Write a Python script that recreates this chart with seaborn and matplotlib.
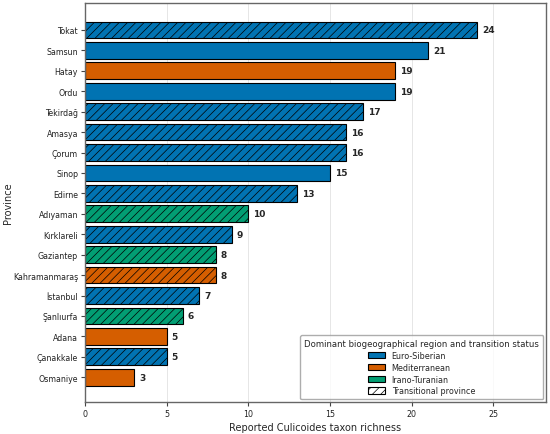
import matplotlib
matplotlib.use("Agg")
import matplotlib.pyplot as plt
import seaborn as sns
import pandas as pd
from matplotlib.patches import Patch

provinces = ["Tokat", "Samsun", "Hatay", "Ordu", "Tekirdağ", "Amasya", "Çorum", "Sinop",
             "Edirne", "Adıyaman", "Kırklareli", "Gaziantep", "Kahramanmaraş", "İstanbul",
             "Şanlıurfa", "Adana", "Çanakkale", "Osmaniye"]
richness = [24, 21, 19, 19, 17, 16, 16, 15, 13, 10, 9, 8, 8, 7, 6, 5, 5, 3]
regions = ["Euro-Siberian", "Euro-Siberian", "Mediterranean", "Euro-Siberian", "Euro-Siberian",
           "Euro-Siberian", "Euro-Siberian", "Euro-Siberian", "Euro-Siberian", "Irano-Turanian",
           "Euro-Siberian", "Irano-Turanian", "Mediterranean", "Euro-Siberian", "Irano-Turanian",
           "Mediterranean", "Euro-Siberian", "Mediterranean"]
transitional = [True, False, False, False, True, True, True, False, True, True,
                True, True, True, True, True, False, True, False]

region_colors = {"Euro-Siberian": "#0173b2", "Mediterranean": "#d55e00", "Irano-Turanian": "#029e73"}

df = pd.DataFrame({"province": provinces, "richness": richness, "region": regions,
                   "transitional": transitional})

sns.set_style("whitegrid")
plt.rcParams["font.family"] = ["DejaVu Sans"]
plt.rcParams["hatch.linewidth"] = 0.5

fig = plt.figure(figsize=(5.5, 4.35), dpi=100)
ax = fig.add_axes([0.1545, 0.074, 0.8375, 0.916])

sns.barplot(data=df, y="province", x="richness", hue="region", palette=region_colors,
            order=provinces, dodge=False, legend=False, width=0.82, saturation=1,
            edgecolor="black", linewidth=0.8, ax=ax)

# hatch the transitional provinces
for p in ax.patches:
    if p.get_height() == 0 or p.get_width() == 0:
        continue
    idx = int(round(p.get_y() + p.get_height() / 2))
    if transitional[idx]:
        p.set_hatch("////")

for i, v in enumerate(richness):
    ax.text(v + 0.3, i, str(v), va="center", ha="left", fontsize=6.5, fontweight="bold")

ax.set_xlim(0, 28.2)
ax.set_ylim(18.2, -1.3)
ax.set_xticks([0, 5, 10, 15, 20, 25])
ax.grid(axis="y", visible=False)
ax.grid(axis="x", color="#e6e6e6", linewidth=0.7)
ax.set_axisbelow(True)
ax.tick_params(axis="both", labelsize=5.7, length=3, width=0.8, color="#444444",
               labelcolor="#222222", pad=2)
ax.tick_params(axis="y", left=True)
ax.tick_params(axis="x", bottom=True)
for s in ax.spines.values():
    s.set_color("#666666")
    s.set_linewidth(1.0)
ax.set_xlabel("Reported Culicoides taxon richness", fontsize=7, labelpad=3)
ax.set_ylabel("Province", fontsize=7, labelpad=0)

handles = [Patch(facecolor=c, edgecolor="black", linewidth=0.8, label=r) for r, c in region_colors.items()]
handles.append(Patch(facecolor="white", edgecolor="black", hatch="////", linewidth=0.8,
                     label="Transitional province"))
leg = ax.legend(handles=handles, title="Dominant biogeographical region and transition status",
                loc="lower right", fontsize=5.8, title_fontsize=6.1, frameon=True,
                handlelength=2.1, handleheight=0.8, labelspacing=0.35, borderpad=0.5,
                borderaxespad=0.3)
leg.get_frame().set_edgecolor("#999999")

fig.savefig("out.png", dpi=100)
